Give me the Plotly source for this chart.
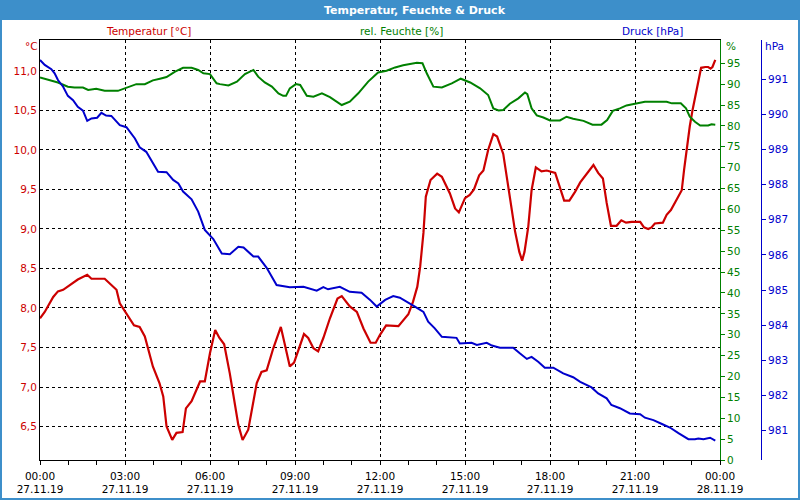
import pandas as pd
import plotly.graph_objects as go

# ---------------- data (minutes after 27.11.19 00:00) ----------------
temp_minutes = [0, 10, 28, 38, 49, 63, 80, 100, 109, 137, 162, 169, 183, 199, 211, 222, 239, 253, 261, 268,
                280, 289, 302, 309, 321, 339, 349, 360, 371, 380, 390, 402, 420, 429, 441, 459, 469, 480, 494, 510,
                518, 529, 538, 559, 568, 579, 589, 600, 614, 630, 639, 656, 671, 685, 700, 711, 720, 733, 759, 772,
                780, 790, 799, 805, 812, 817, 827, 841, 851, 868, 879, 887, 900, 910, 919, 930, 939, 949, 960, 968,
                981, 992, 1006, 1015, 1021, 1026, 1034, 1041, 1050, 1062, 1073, 1091, 1100, 1110, 1121, 1133, 1144,
                1161, 1172, 1182, 1192, 1200, 1209, 1221, 1231, 1241, 1253, 1271, 1279, 1288, 1295, 1302, 1319, 1327,
                1336, 1348, 1359, 1364, 1369, 1376, 1382, 1391, 1400, 1409, 1415, 1420, 1424, 1430]
temp_values = [7.87, 7.95, 8.14, 8.21, 8.23, 8.29, 8.36, 8.42, 8.37, 8.37, 8.23, 8.06, 7.93, 7.78, 7.76, 7.64, 7.26, 7.05, 6.88, 6.50,
               6.33, 6.42, 6.43, 6.73, 6.82, 7.07, 7.07, 7.43, 7.72, 7.62, 7.54, 7.17, 6.52, 6.33, 6.46, 7.05, 7.19, 7.21, 7.49, 7.76,
               7.55, 7.26, 7.31, 7.67, 7.62, 7.49, 7.45, 7.62, 7.87, 8.12, 8.15, 8.02, 7.95, 7.74, 7.56, 7.56, 7.66, 7.78, 7.77, 7.87,
               7.92, 8.08, 8.27, 8.52, 8.95, 9.41, 9.62, 9.70, 9.66, 9.45, 9.26, 9.21, 9.39, 9.43, 9.50, 9.68, 9.74, 10.0, 10.20, 10.17,
               9.95, 9.52, 8.97, 8.71, 8.60, 8.71, 9.03, 9.49, 9.78, 9.73, 9.74, 9.71, 9.54, 9.36, 9.36, 9.47, 9.59,
               9.73, 9.81, 9.71, 9.64, 9.33, 9.04, 9.04, 9.11, 9.08, 9.09, 9.09, 9.02, 9.00, 9.02, 9.07, 9.08, 9.18,
               9.24, 9.37, 9.49, 9.75, 10.0, 10.30, 10.51, 10.80, 11.04, 11.05, 11.05, 11.03, 11.05, 11.14]

hum_minutes = [0, 17, 38, 59, 73, 91, 102, 119, 137, 165, 183, 204, 222, 239, 254, 268, 286, 303, 321, 335,
               346, 360, 374, 381, 399, 417, 434, 452, 462, 476, 491, 505, 515, 521, 529, 542, 551, 565, 579, 597,
               614, 639, 656, 674, 695, 716, 734, 752, 769, 784, 798, 810, 819, 833, 851, 872, 891, 911, 932, 949,
               960, 971, 981, 995, 1013, 1027, 1032, 1041, 1052, 1066, 1080, 1101, 1115, 1129, 1151, 1170, 1189,
               1201, 1213, 1228, 1242, 1260, 1281, 1327, 1338, 1357, 1368, 1376, 1387, 1398, 1415, 1422, 1430]
hum_values = [91.6, 91.0, 90.4, 89.4, 89.2, 89.2, 88.6, 88.9, 88.4, 88.4, 89.2, 90.0, 90.0, 90.9, 91.3, 91.7, 93.0, 93.9, 93.9, 93.4,
              92.6, 92.4, 90.2, 90.0, 89.7, 90.6, 92.4, 93.4, 91.8, 90.4, 89.4, 87.8, 87.2, 87.2, 89.0, 90.0, 89.8, 87.2, 87.0, 87.8,
              86.9, 85.0, 85.8, 87.8, 90.6, 92.8, 93.2, 94.0, 94.5, 94.8, 95.1, 95.0, 92.6, 89.4, 89.2, 90.2, 91.3, 90.4, 89.0, 87.4,
              84.2, 83.7, 83.8, 85.3, 86.6, 88.0, 87.6, 84.2, 82.5, 82.0, 81.3, 81.3, 82.2, 81.7, 81.2, 80.3, 80.3,
              81.4, 83.6, 84.2, 84.9, 85.3, 85.8, 85.8, 85.4, 85.4, 84.2, 82.2, 81.0, 80.1, 80.1, 80.4, 80.3]

press_minutes = [0, 10, 24, 31, 38, 49, 59, 70, 80, 91, 100, 109, 121, 130, 140, 151, 169, 183, 201, 211,
                 225, 239, 250, 268, 282, 293, 303, 321, 335, 349, 367, 385, 402, 420, 431, 452, 462, 480, 501, 529,
                 558, 586, 600, 610, 635, 656, 681, 699, 713, 731, 748, 762, 777, 794, 812, 822, 836, 851, 882, 889,
                 914, 925, 946, 957, 974, 1002, 1016, 1031, 1041, 1055, 1069, 1087, 1108, 1129, 1144, 1168, 1182,
                 1200, 1210, 1228, 1249, 1271, 1281, 1299, 1317, 1334, 1352, 1373, 1387, 1394, 1405, 1419, 1430]
press_values = [991.54, 991.40, 991.28, 991.16, 990.97, 990.78, 990.52, 990.40, 990.21, 990.10, 989.81, 989.88, 989.90, 990.04,
                989.96, 989.95, 989.69, 989.63, 989.31, 989.06, 988.93, 988.60, 988.36, 988.35, 988.13, 988.03, 987.80,
                987.58, 987.23, 986.71, 986.45, 986.04, 986.02, 986.23, 986.21, 985.95, 985.95, 985.63, 985.14, 985.08,
                985.09, 984.98, 985.08, 985.02, 985.09, 984.95, 984.92, 984.72, 984.53, 984.72, 984.83, 984.78, 984.67,
                984.53, 984.38, 984.10, 983.91, 983.67, 983.64, 983.48, 983.50, 983.44, 983.50, 983.42, 983.36, 983.36,
                983.20, 983.04, 983.10, 982.96, 982.79, 982.79, 982.63, 982.52, 982.39, 982.23, 982.06, 981.92, 981.73,
                981.64, 981.49, 981.47, 981.37, 981.30, 981.19, 981.09, 980.93, 980.76, 980.76, 980.78, 980.76, 980.80,
                980.72]

temp_ticks = [6.5, 7.0, 7.5, 8.0, 8.5, 9.0, 9.5, 10.0, 10.5, 11.0]
hum_ticks = list(range(0, 100, 5))
press_ticks = list(range(981, 992))

title_text = "Temperatur, Feuchte & Druck"
head_temp = "Temperatur [°C]"
head_hum = "rel. Feuchte [%]"
head_press = "Druck [hPa]"

# ---------------- build ----------------
BASE = pd.Timestamp("2019-11-27 00:00")
def to_time(mins):
    return BASE + pd.to_timedelta(mins, unit="min")

RED = "#cc0000"
GREEN = "#008000"
BLUE = "#0000cc"
BAR = "#3d8fca"
FONT = "DejaVu Sans"
TS = 10.5

W, H = 800, 500
def px(x):
    return x / W
def py(y):
    return 1 - y / H

fig = go.Figure()
fig.add_trace(go.Scatter(x=to_time(temp_minutes), y=temp_values, mode="lines",
                         line=dict(color=RED, width=2.2), yaxis="y", name=head_temp))
fig.add_trace(go.Scatter(x=to_time(hum_minutes), y=hum_values, mode="lines",
                         line=dict(color=GREEN, width=2), yaxis="y2", name=head_hum))
fig.add_trace(go.Scatter(x=to_time(press_minutes), y=press_values, mode="lines",
                         line=dict(color=BLUE, width=2), yaxis="y3", name=head_press))

fig.update_layout(
    template="none",
    width=W, height=H,
    margin=dict(l=0, r=0, t=0, b=0),
    paper_bgcolor="white", plot_bgcolor="white",
    showlegend=False,
    separators=",.",
    font=dict(family=FONT, size=TS, color="black"),
    xaxis=dict(
        type="date",
        domain=[px(40), px(720)],
        range=[BASE, BASE + pd.Timedelta(hours=24)],
        tick0=BASE, dtick=3 * 3600 * 1000,
        tickformat="%H:%M<br>%d.%m.%y",
        showgrid=True, gridcolor="black", griddash="3px,3px", gridwidth=1,
        showline=True, linecolor="black", linewidth=1, mirror=True,
        ticks="outside", ticklen=4, tickcolor="black",
        minor=dict(dtick=3600 * 1000, ticks="outside", ticklen=4, tickcolor="black", showgrid=False),
        zeroline=False, automargin=False, ticklabelstandoff=2,
        tickfont=dict(family=FONT, size=TS, color="black"),
    ),
    yaxis=dict(
        domain=[py(460), py(40)],
        range=[6.076, 11.392],
        tickvals=temp_ticks, tickformat=".1f",
        showgrid=True, gridcolor="black", griddash="3px,3px", gridwidth=1,
        showline=True, linecolor="black", linewidth=1,
        ticks="", zeroline=False, automargin=False,
        tickfont=dict(family=FONT, size=TS, color=RED),
    ),
    yaxis2=dict(
        overlaying="y", side="right", anchor="x",
        range=[0, 100.57],
        tickvals=hum_ticks,
        showgrid=False, zeroline=False, automargin=False,
        showline=True, linecolor=GREEN, linewidth=1,
        ticks="outside", ticklen=4, tickcolor=GREEN,
        tickfont=dict(family=FONT, size=TS, color=GREEN),
    ),
    yaxis3=dict(
        overlaying="y", side="right", anchor="free", position=px(761),
        range=[980.167, 992.109],
        tickvals=press_ticks,
        showgrid=False, zeroline=False, automargin=False,
        showline=True, linecolor=BLUE, linewidth=1,
        ticks="outside", ticklen=4, tickcolor=BLUE,
        tickfont=dict(family=FONT, size=TS, color=BLUE),
    ),
)

shapes = [
    dict(type="rect", xref="paper", yref="paper", x0=0, x1=1, y0=py(20), y1=1,
         fillcolor=BAR, line=dict(width=0), layer="above"),
    dict(type="rect", xref="paper", yref="paper", x0=0, x1=px(2), y0=0, y1=1,
         fillcolor=BAR, line=dict(width=0), layer="above"),
    dict(type="rect", xref="paper", yref="paper", x0=px(798), x1=1, y0=0, y1=1,
         fillcolor=BAR, line=dict(width=0), layer="above"),
    dict(type="rect", xref="paper", yref="paper", x0=0, x1=1, y0=0, y1=py(498),
         fillcolor=BAR, line=dict(width=0), layer="above"),
]
fig.update_layout(shapes=shapes)

def ann(text, x, y, color, size=TS, bold=False):
    return dict(text=f"<b>{text}</b>" if bold else text, xref="paper", yref="paper",
                x=px(x), y=py(y), xanchor="center", yanchor="middle", showarrow=False,
                font=dict(family=FONT, size=size, color=color))

fig.update_layout(annotations=[
    ann(title_text, 415, 10, "white", size=11, bold=True),
    ann(head_temp, 148, 31, RED),
    ann(head_hum, 402, 31, GREEN),
    ann(head_press, 652, 31, BLUE),
    ann("°C", 31, 46, RED),
    ann("%", 731, 46, GREEN),
    ann("hPa", 774, 46, BLUE),
])

fig.write_html("out.html")
